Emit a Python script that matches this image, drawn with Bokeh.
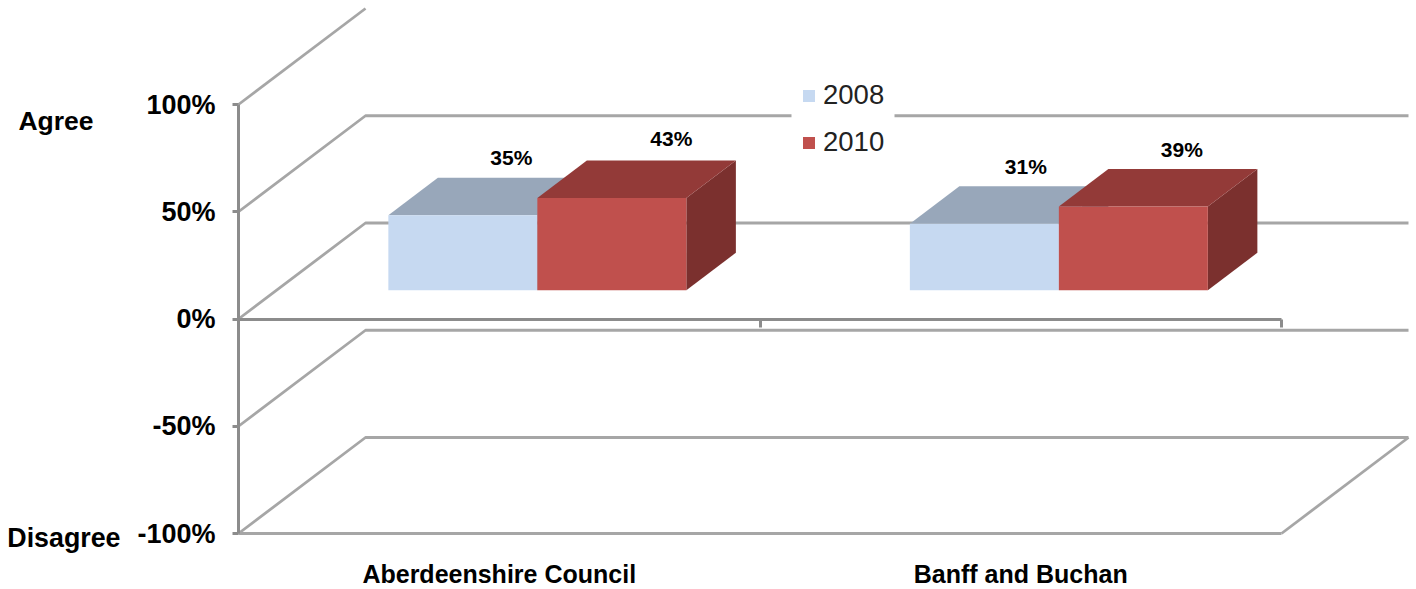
from bokeh.plotting import figure
from bokeh.embed import file_html
from bokeh.resources import INLINE
from bokeh.models import (Range1d, FixedTicker, LinearAxis, Legend, LegendItem,
                          ColumnDataSource)
from bokeh.core.properties import value

# ---- data ----
categories = ["Aberdeenshire Council", "Banff and Buchan"]
series_names = ["2008", "2010"]
values_2008 = [35, 31]
values_2010 = [43, 39]
y_ticks = [-100, -50, 0, 50, 100]
y_tick_labels = ["-100%", "-50%", "0%", "50%", "100%"]
side_texts = ["Agree", "Disagree"]

# ---- styling / layout ----
FONT = "Liberation Sans"
GRID = "#a6a6a6"
AXIS = "#8c8c8c"
BLUE = dict(front="#c6d9f1", top="#98a7ba", side="#7f8ea3")
RED = dict(front="#c0504d", top="#933a38", side="#7b302e")
PX_X = 521.5      # pixels per category
PX_Y = 2.145      # pixels per percent
LEFT_PX = 238     # frame pixels left of the category origin
TOP_PX = 533      # frame pixels above the -100% level
DX = 127 / PX_X   # depth vector, x part in category units
DY = 96 / PX_Y    # depth vector, y part in percent
D0, D1 = 0.30, 0.69   # bar depth extent
BAR_LEFT, BAR_W = 0.2143, 0.2857
label_dx = [[-1, -8], [10, -1]]
label_dy = [[-20, -20], [-22, -20]]


def proj(x, y, d):
    return x + d * DX, y + d * DY


def face(points):
    pts = [proj(*pt) for pt in points]
    return [a for a, _ in pts], [b for _, b in pts]


frame_w = 1412
frame_h = 586
p = figure(frame_width=frame_w, frame_height=frame_h, output_backend="svg",
           toolbar_location=None, min_border_left=0, min_border_top=0,
           min_border_right=0, min_border_bottom=0,
           x_range=Range1d(-LEFT_PX / PX_X, (frame_w - LEFT_PX) / PX_X),
           y_range=Range1d(-100 - (frame_h - TOP_PX) / PX_Y, -100 + TOP_PX / PX_Y))
p.outline_line_color = None
p.grid.visible = False
p.background_fill_color = "white"
p.border_fill_color = "white"

# ---- walls ----
gx, gy = [], []
for t in y_ticks:
    a = proj(0, t, 0)
    b = proj(0, t, 1)
    c = proj(2, t, 1)
    if t == 100:
        gx.append([a[0], b[0]])
        gy.append([a[1], b[1]])
    else:
        gx.append([a[0], b[0], c[0]])
        gy.append([a[1], b[1], c[1]])
fa, fb = proj(2, -100, 0), proj(2, -100, 1)
gx.append([fa[0], fb[0]])
gy.append([fa[1], fb[1]])
p.multi_line(gx, gy, line_color=GRID, line_width=2.8)

# white legend panel that interrupts the back wall line
p.quad(left=[(791 - LEFT_PX) / PX_X], right=[(894 - LEFT_PX) / PX_X],
       bottom=[50 + DY - 2.5], top=[50 + DY + 2.5], fill_color="white", line_color=None)

# ---- bars ----
legend_items = []
label_x, label_y, label_txt, label_off, label_voff = [], [], [], [], []
for s, (name, vals, cols) in enumerate(zip(series_names, [values_2008, values_2010], [BLUE, RED])):
    fr_x, fr_y, to_x, to_y, si_x, si_y = [], [], [], [], [], []
    for c, v in enumerate(vals):
        x0 = c + BAR_LEFT + s * BAR_W
        x1 = x0 + BAR_W
        a, b = face([(x0, 0, D0), (x1, 0, D0), (x1, v, D0), (x0, v, D0)])
        fr_x.append(a); fr_y.append(b)
        a, b = face([(x0, v, D0), (x1, v, D0), (x1, v, D1), (x0, v, D1)])
        to_x.append(a); to_y.append(b)
        a, b = face([(x1, 0, D0), (x1, 0, D1), (x1, v, D1), (x1, v, D0)])
        si_x.append(a); si_y.append(b)
        lx, ly = proj((x0 + x1) / 2, v, D1)
        label_x.append(lx); label_y.append(ly)
        label_txt.append(f"{v}%")
        label_off.append(label_dx[s][c])
        label_voff.append(label_dy[s][c])
    p.patches(si_x, si_y, fill_color=cols["side"], line_color=None)
    p.patches(to_x, to_y, fill_color=cols["top"], line_color=None)
    r = p.patches(fr_x, fr_y, fill_color=cols["front"], line_color=None)
    legend_items.append(LegendItem(label=name, renderers=[r]))

src = ColumnDataSource(dict(x=label_x, y=label_y, text=label_txt, dx=label_off, dy=label_voff))
p.text("x", "y", text="text", x_offset="dx", y_offset="dy", source=src,
       text_font=value(FONT), text_font_style="bold", text_font_size="21px",
       text_color="black", text_align="center", text_baseline="middle")

# ---- axes ----
yax = p.yaxis[0]
yax.fixed_location = 0
yax.ticker = FixedTicker(ticks=y_ticks)
yax.major_label_overrides = {t: l for t, l in zip(y_ticks, y_tick_labels)}
yax.bounds = (-100, 100)
yax.axis_line_color = AXIS
yax.axis_line_width = 3
yax.major_tick_line_color = AXIS
yax.major_tick_line_width = 3
yax.major_tick_in = 0
yax.major_tick_out = 6
yax.minor_tick_line_color = None
yax.major_label_standoff = 17
yax.major_label_text_font = FONT
yax.major_label_text_font_style = "bold"
yax.major_label_text_font_size = "27px"
yax.major_label_text_color = "black"

xax = p.xaxis[0]
xax.fixed_location = -100
centers = [i + 0.5 for i in range(len(categories))]
xax.ticker = FixedTicker(ticks=centers)
xax.major_label_overrides = {t: l for t, l in zip(centers, categories)}
xax.bounds = (0, 2)
xax.axis_line_color = GRID
xax.axis_line_width = 2.8
xax.major_tick_line_color = None
xax.minor_tick_line_color = None
xax.major_label_standoff = 20
xax.major_label_text_font = FONT
xax.major_label_text_font_style = "bold"
xax.major_label_text_font_size = "25px"
xax.major_label_text_color = "black"

zero = LinearAxis(fixed_location=0, ticker=FixedTicker(ticks=[0, 1, 2]), bounds=(0, 2))
zero.axis_line_color = AXIS
zero.axis_line_width = 3
zero.major_tick_line_color = AXIS
zero.major_tick_line_width = 3
zero.major_tick_in = 0
zero.major_tick_out = 8
zero.minor_tick_line_color = None
zero.major_label_text_font_size = "0px"
zero.major_label_text_color = None
p.add_layout(zero, "below")

# ---- side texts ----
p.text(x=[(93 - LEFT_PX) / PX_X], y=[92.5], text=[side_texts[0]],
       text_align="right", text_baseline="middle", text_font=value(FONT),
       text_font_style="bold", text_font_size="26.5px", text_color="black")
p.text(x=[(120 - LEFT_PX) / PX_X], y=[-102], text=[side_texts[1]],
       text_align="right", text_baseline="middle", text_font=value(FONT),
       text_font_style="bold", text_font_size="26.8px", text_color="black")

# ---- legend ----
leg = Legend(items=legend_items, location=(801, 428), orientation="vertical",
             background_fill_color="white", background_fill_alpha=1, border_line_color=None,
             glyph_width=15, glyph_height=15, label_standoff=7, spacing=15, padding=13, margin=0,
             label_text_font=FONT, label_text_font_size="27.5px", label_text_color="#222222")
p.add_layout(leg, "center")

open("out.html", "w").write(file_html(p, INLINE))
